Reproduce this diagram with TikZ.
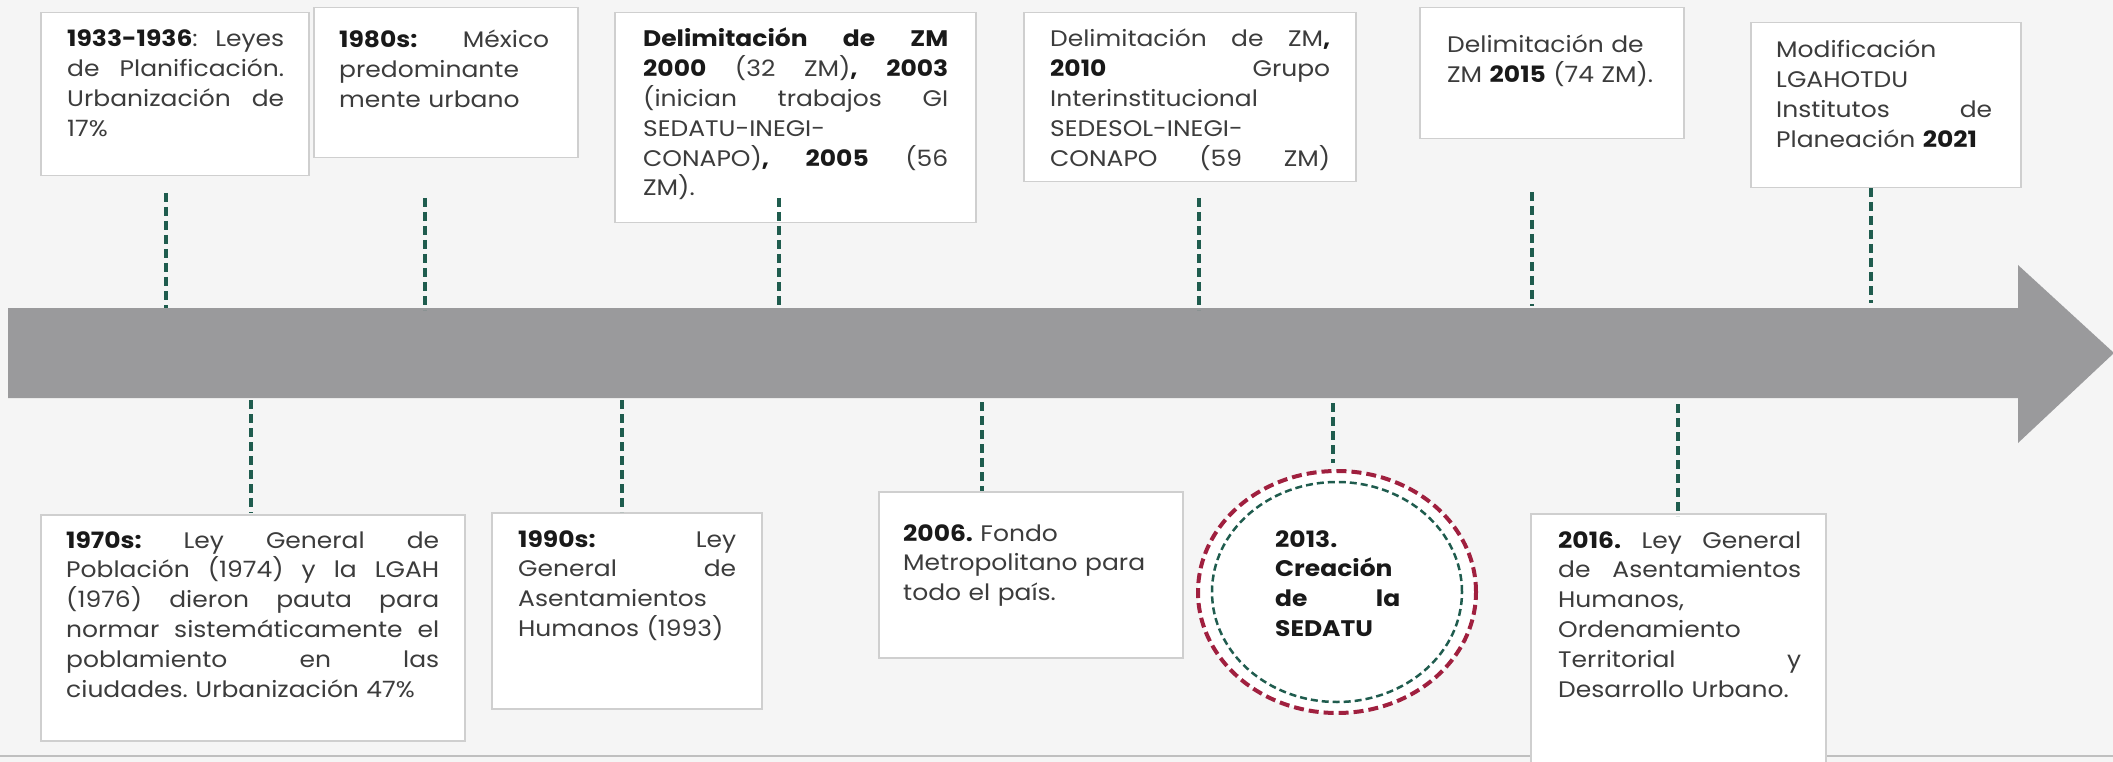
\documentclass[tikz,border=0pt]{standalone}
\usepackage{fontspec}
\setmainfont{Poppins}[FakeStretch=1.11]
\usetikzlibrary{shapes.geometric}
\frenchspacing
\definecolor{bgc}{HTML}{F5F5F5}
\definecolor{bandc}{HTML}{9A9A9C}
\definecolor{gline}{HTML}{1F5C4E}
\definecolor{rline}{HTML}{A0203F}
\definecolor{txtc}{HTML}{3C3C3C}
\definecolor{boxline}{HTML}{CFCFCF}
\newlength{\lw}
\newcommand{\jl}[1]{\hbox to \lw{#1}\par}
\newcommand{\nl}[1]{\hbox{#1}\par}
\newcommand{\gp}{\hfill}
\newcommand{\bd}[1]{\textcolor{black!90}{\textbf{#1}}}
\tikzset{
  card/.style={draw=boxline, line width=1.5pt, fill=white, anchor=north west, inner sep=0pt},
  txt/.style={anchor=base west, inner sep=0pt, text=txtc, text width=#1,
     execute at begin node={\setlength{\lw}{#1}},
     font=\fontsize{22.5}{29.8}\selectfont\frenchspacing},
  tick/.style={draw=gline, line width=4pt, dash pattern=on 9pt off 5pt},
}
\begin{document}
\begin{tikzpicture}[x=1pt,y=-1pt]
\fill[bgc] (0,0) rectangle (2113,762);
\path[use as bounding box] (0,0) rectangle (2113,762);
\clip (0,0) rectangle (2113,762);
% bottom rule
\draw[black!25, line width=1.5pt] (0,756) -- (2113,756);
% timeline band with arrow head
\fill[bandc] (8,308) -- (2018,308) -- (2018,265) -- (2114,353) -- (2018,443) -- (2018,398) -- (8,398) -- cycle;

% ---------- top cards ----------
\node[card, minimum width=268pt, minimum height=163pt] (b1) at (40,12) {};
\node[card, minimum width=264pt, minimum height=150pt] (b2) at (313,7) {};
\node[card, minimum width=361pt, minimum height=210pt] (b3) at (614,12) {};
\node[card, minimum width=332pt, minimum height=169pt] (b4) at (1023,12) {};
\node[card, minimum width=264pt, minimum height=131pt] (b5) at (1419,7) {};
\node[card, minimum width=270pt, minimum height=165pt] (b6) at (1750,22) {};

\node[txt=217pt] (t1) at (67,47) {%
\jl{\bd{1933-1936}:\gp Leyes}\jl{de\gp Planificación.}\jl{Urbanización\gp de}\nl{17\%}};
\node[txt=210pt] (t2) at (339,48) {%
\jl{\bd{1980s:}\gp México}\nl{predominante}\nl{mente urbano}};
\node[txt=305pt] (t3) at (643,47) {%
\jl{\bd{Delimitación\gp de\gp ZM}}\jl{\bd{2000}\gp (32\gp ZM)\bd{,}\gp \bd{2003}}\jl{(inician\gp trabajos\gp GI}\nl{SEDATU-INEGI-}\jl{CONAPO)\bd{,}\gp \bd{2005}\gp (56}\nl{ZM).}};
\node[txt=280pt] (t4) at (1050,47) {%
\jl{Delimitación\gp de\gp ZM\bd{,}}\jl{\bd{2010}\gp Grupo}\nl{Interinstitucional}\nl{SEDESOL-INEGI-}\jl{CONAPO\gp (59\gp ZM)}};
\node[txt=213pt] (t5) at (1447,53) {%
\nl{Delimitación de}\nl{ZM \bd{2015} (74 ZM).}};
\node[txt=216pt] (t6) at (1776,58) {%
\nl{Modificación}\nl{LGAHOTDU}\jl{Institutos\gp de}\nl{Planeación \bd{2021}}};

% ---------- bottom cards ----------
\node[card, minimum width=424pt, minimum height=226pt] (b7) at (40,514) {};
\node[card, minimum width=270pt, minimum height=196pt] (b8) at (491,512) {};
\node[card, minimum width=304pt, minimum height=166pt] (b9) at (878,491) {};
\node[card, minimum width=295pt, minimum height=260pt] (b10) at (1530,513) {};
\node[ellipse, fill=white, draw=rline, line width=4pt, dash pattern=on 10pt off 5pt,
      minimum width=278pt, minimum height=242pt, inner sep=0pt] (c1) at (1337,592) {};
\node[ellipse, draw=gline, line width=2.5pt, dash pattern=on 7pt off 4pt,
      minimum width=250pt, minimum height=220pt, inner sep=0pt] (c2) at (1337,592) {};

\node[txt=373pt] (t7) at (66,548) {%
\jl{\bd{1970s:}\gp Ley\gp General\gp de}\jl{Población\gp (1974)\gp y\gp la\gp LGAH}\jl{(1976)\gp dieron\gp pauta\gp para}\jl{normar\gp sistemáticamente\gp el}\jl{poblamiento\gp en\gp las}\nl{ciudades. Urbanización 47\%}};
\node[txt=218pt] (t8) at (518,547) {%
\jl{\bd{1990s:}\gp Ley}\jl{General\gp de}\nl{Asentamientos}\nl{Humanos (1993)}};
\node[txt=250pt] (t9) at (903,541) {%
\nl{\bd{2006.} Fondo}\nl{Metropolitano para}\nl{todo el país.}};
\node[txt=125pt] (t11) at (1275,547) {%
\nl{\bd{2013.}}\nl{\bd{Creación}}\jl{\bd{de}\gp\bd{la}}\nl{\bd{SEDATU}}};
\node[txt=243pt] (t10) at (1558,548) {%
\jl{\bd{2016.}\gp Ley\gp General}\jl{de\gp Asentamientos}\nl{Humanos,}\nl{Ordenamiento}\jl{Territorial\gp y}\nl{Desarrollo Urbano.}};

% ---------- ticks ----------
\foreach \n/\x/\ya/\yb in {1/166/193/308, 2/425/198/310, 3/779/198/308, 4/1199/198/310, 5/1532/192/306, 6/1871/188/303,
  7/251/400/513, 8/622/400/512, 9/982/402/491, 10/1333/403/463, 11/1678/404/516}{
  \coordinate (s\n) at (\x,\ya);
  \coordinate (e\n) at (\x,\yb);
  \draw[tick] (s\n) -- (e\n);
}
\end{tikzpicture}
\end{document}
